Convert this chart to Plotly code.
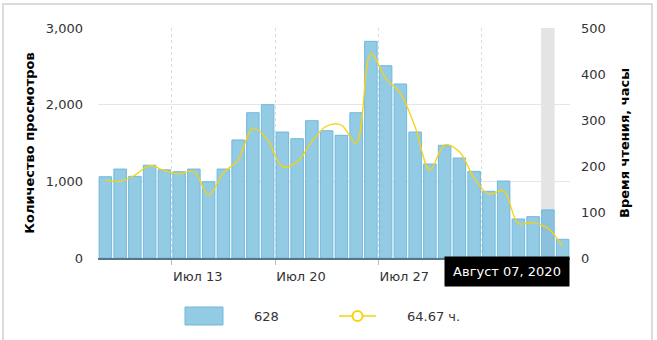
import plotly.graph_objects as go
import pandas as pd

# ---- data ----
dates = pd.date_range("2020-07-08", "2020-08-08", freq="D")
views = [1060, 1160, 1065, 1210, 1150, 1125, 1160, 995, 1160, 1540,
         1895, 2000, 1643, 1556, 1791, 1660, 1600, 1895, 2826, 2508,
         2270, 1643, 1226, 1470, 1304, 1130, 870, 1004, 509, 539,
         628, 244]
hours = [170, 167, 180, 201, 190, 183, 188, 137, 185, 213,
         282, 257, 199, 209, 253, 287, 289, 249, 445, 391,
         358, 285, 191, 246, 231, 174, 139, 146, 75, 77,
         64.67, 25]
tick_dates = ["2020-07-13", "2020-07-20", "2020-07-27", "2020-08-03"]
tick_text = ["Июл 13", "Июл 20", "Июл 27", ""]  # Aug 03 label is hidden under the hover label
highlight_idx = 30
highlight_label = "Август 07, 2020"
left_title = "Количество просмотров"
right_title = "Время чтения, часы"

BAR_FILL = "#93cae4"
BAR_LINE = "#72b9dc"
LINE_COLOR = "#f5d40c"
FONT = "DejaVu Sans"

xc = [d + pd.Timedelta(hours=12) for d in dates]
bar_colors = [BAR_FILL] * len(views)
bar_colors[highlight_idx] = "#8cc1dd"

fig = go.Figure()
fig.add_trace(go.Bar(
    x=xc, y=views, marker=dict(color=bar_colors, line=dict(color=BAR_LINE, width=1)),
    showlegend=False, hoverinfo="skip"))
fig.add_trace(go.Scatter(
    x=xc, y=hours, yaxis="y2", mode="lines",
    line=dict(color=LINE_COLOR, width=1.3, shape="spline", smoothing=1),
    showlegend=False, hoverinfo="skip"))

hd = dates[highlight_idx]
shapes = [
    # hover band
    dict(type="rect", xref="x", yref="paper", layer="below",
         x0=hd + pd.Timedelta(hours=1), x1=hd + pd.Timedelta(hours=23), y0=0, y1=1,
         fillcolor="#e4e4e4", line=dict(width=0)),
    # outer border
    dict(type="rect", xref="paper", yref="paper", x0=-0.2013, x1=1.1737, y0=-0.6, y1=1.1043,
         line=dict(color="#d0d0d0", width=1.5), fillcolor="rgba(0,0,0,0)"),
    # legend: bar swatch
    dict(type="rect", xref="paper", yref="paper", x0=0.1843, x1=0.2648, y0=-0.2913, y1=-0.2130,
         fillcolor=BAR_FILL, line=dict(color=BAR_LINE, width=1)),
    # legend: line swatch
    dict(type="line", xref="paper", yref="paper", x0=0.5106, x1=0.5890, y0=-0.2522, y1=-0.2522,
         line=dict(color=LINE_COLOR, width=1.5)),
    dict(type="circle", xref="paper", yref="paper", xsizemode="pixel", ysizemode="pixel",
         xanchor=0.5498, yanchor=-0.2522, x0=-5, x1=5, y0=-5, y1=5,
         fillcolor="white", line=dict(color=LINE_COLOR, width=2)),
]

annotations = [
    dict(text=f"{views[highlight_idx]}", xref="paper", yref="paper", x=0.3263, y=-0.2522,
         xanchor="left", yanchor="middle", showarrow=False,
         font=dict(family=FONT, size=13, color="#333")),
    dict(text=f"{hours[highlight_idx]:.2f} ч.", xref="paper", yref="paper", x=0.6504, y=-0.2522,
         xanchor="left", yanchor="middle", showarrow=False,
         font=dict(family=FONT, size=13, color="#333")),
    dict(text=highlight_label, xref="paper", yref="paper", x=0.8665, y=-0.0587,
         xanchor="center", yanchor="middle", showarrow=False, bgcolor="black",
         width=124, height=29, borderpad=0,
         font=dict(family=FONT, size=13, color="white")),
]

fig.update_layout(
    width=657, height=340,
    margin=dict(l=98, r=87, t=28, b=82),
    paper_bgcolor="white", plot_bgcolor="white",
    bargap=0.15,
    font=dict(family=FONT, size=13, color="#333"),
    xaxis=dict(
        type="date", range=[dates[0], dates[-1] + pd.Timedelta(days=1)],
        tickvals=tick_dates, ticktext=tick_text, ticklabelshift=26,
        showgrid=True, gridcolor="#dcdcdc", griddash="dot", gridwidth=1,
        showline=True, linecolor="#5a7686", linewidth=2,
        ticks="outside", ticklen=5, tickcolor="#bbbbbb",
        tickfont=dict(family=FONT, size=13, color="#333"),
        zeroline=False, fixedrange=True),
    yaxis=dict(
        range=[0, 3000], dtick=1000, tickformat=",",
        showgrid=True, gridcolor="#e6e6e6", gridwidth=1, zeroline=False,
        ticklabelstandoff=14,
        tickfont=dict(family=FONT, size=13, color="#333"),
        title=dict(text=left_title, standoff=8,
                   font=dict(family=FONT, size=13, color="black", weight="bold"))),
    yaxis2=dict(
        range=[0, 500], dtick=100, overlaying="y", side="right",
        showgrid=False, zeroline=False, ticklabelstandoff=10,
        tickfont=dict(family=FONT, size=13, color="#333"),
        title=dict(text=right_title, standoff=15,
                   font=dict(family=FONT, size=13, color="black", weight="bold"))),
    shapes=shapes, annotations=annotations,
    showlegend=False,
)

fig.write_html("out.html")
